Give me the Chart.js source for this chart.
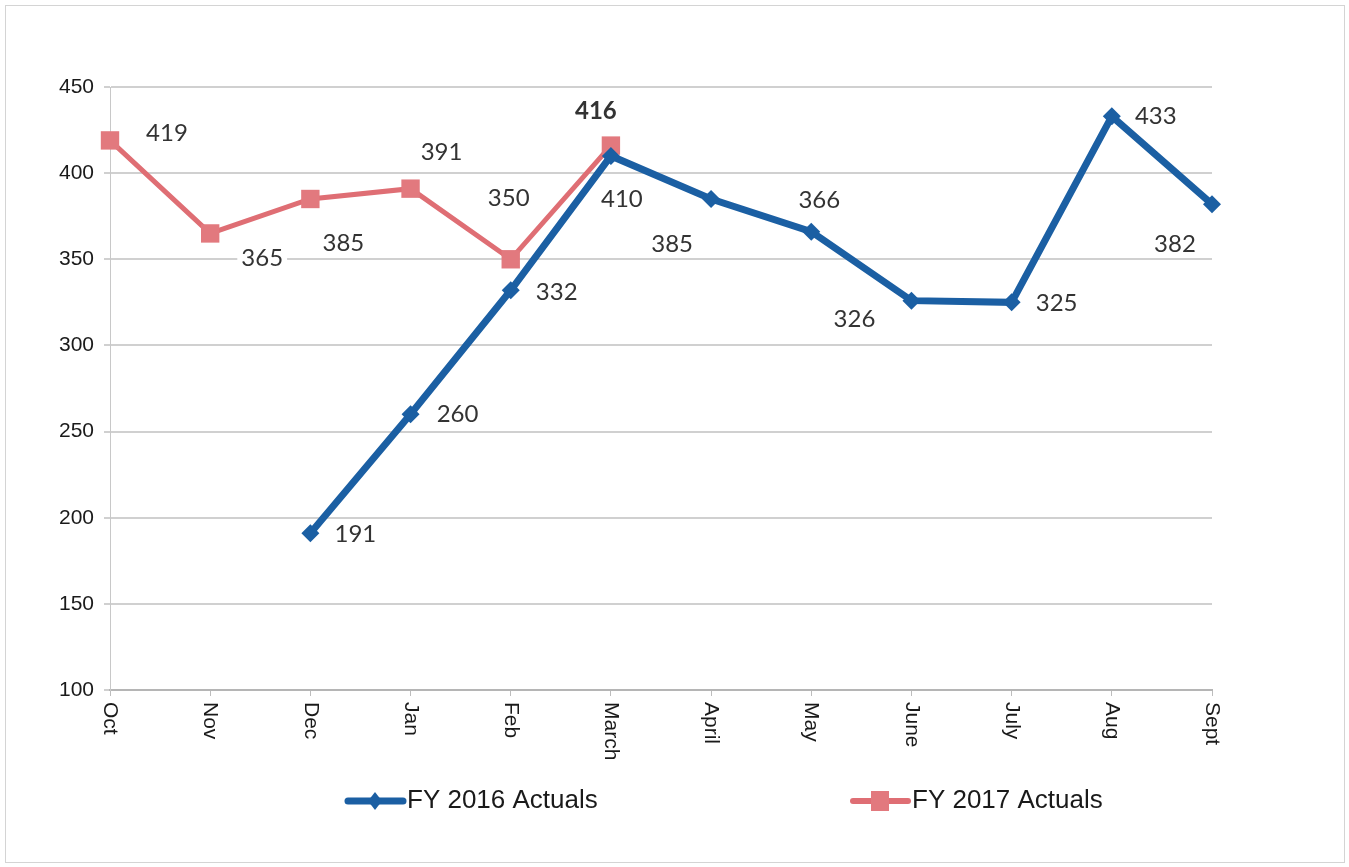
<!DOCTYPE html>
<html>
<head>
<meta charset="utf-8">
<script src="https://cdn.jsdelivr.net/npm/chart.js@4"></script>
<style>
  html, body { margin: 0; padding: 0; background: #fff; }
  #wrap { position: relative; width: 1349px; height: 867px; }
  #frame { position: absolute; left: 5px; top: 5px; width: 1340px; height: 858px; border: 1px solid #d4d4d4; box-sizing: border-box; pointer-events: none; }
</style>
</head>
<body>
<div id="wrap">
  <canvas id="chart" width="1349" height="867"></canvas>
  <div id="frame"></div>
</div>
<script>
// Data
const months = ['Oct', 'Nov', 'Dec', 'Jan', 'Feb', 'March', 'April', 'May', 'June', 'July', 'Aug', 'Sept'];
const fy2016 = [null, null, 191, 260, 332, 410, 385, 366, 326, 325, 433, 382];
const fy2017 = [419, 365, 385, 391, 350, 416, null, null, null, null, null, null];
const yTicks = [100, 150, 200, 250, 300, 350, 400, 450];

// label placement (offset from point, px)
const offsets2016 = [null, null, [45, 1], [47, 0], [46, 2], [11, 43], [-39, 45], [8, -31], [-57, 19], [45, 1], [44, 0], [-37, 40]];
const offsets2017 = [[57, -7], [52, 25], [33, 44], [31, -36], [-2, -61], [-15, -34]];

const BLUE = '#1b5fa3';
const RED = '#df6e74';

// Draw the value labels with white boxes
const valueLabels = {
    id: 'valueLabels',
    afterDatasetsDraw(chart) {
        const ctx = chart.ctx;
        const sets = [[0, offsets2016], [1, offsets2017]];
        ctx.save();
        ctx.textAlign = 'center';
        ctx.textBaseline = 'middle';
        sets.forEach(([di, offs]) => {
            const meta = chart.getDatasetMeta(di);
            const values = chart.data.datasets[di].data;
            meta.data.forEach((pt, i) => {
                if (values[i] == null || !offs[i]) return;
                const bold = di === 1 && i === 5;
                ctx.font = (bold ? 'bold ' : '') + '24px Lato, "Open Sans", sans-serif';
                const text = String(values[i]);
                const x = pt.x + offs[i][0];
                const y = pt.y + offs[i][1];
                const w = ctx.measureText(text).width;
                ctx.fillStyle = '#fff';
                ctx.fillRect(x - w / 2 - 4, y - 11, w + 8, 22);
                ctx.fillStyle = '#333';
                ctx.fillText(text, x, y);
            });
        });
        ctx.restore();
    }
};

// Rotated month labels (reading top to bottom) and bottom legend
const extras = {
    id: 'extras',
    afterDraw(chart) {
        const ctx = chart.ctx;
        const xs = chart.scales.x;
        ctx.save();
        ctx.font = '21px "Liberation Sans", Arial, sans-serif';
        ctx.fillStyle = '#1a1a1a';
        ctx.textAlign = 'left';
        ctx.textBaseline = 'middle';
        months.forEach((m, i) => {
            const x = xs.getPixelForTick(i);
            ctx.save();
            ctx.translate(x, chart.chartArea.bottom + 12);
            ctx.rotate(Math.PI / 2);
            ctx.fillText(m, 0, 0);
            ctx.restore();
        });

        // legend
        const items = [
            { text: 'FY 2016 Actuals', color: BLUE, lw: 7, style: 'diamond', x0: 345 },
            { text: 'FY 2017 Actuals', color: RED, lw: 6, style: 'square', x0: 850 }
        ];
        const ly = 801;
        items.forEach(it => {
            ctx.strokeStyle = it.color;
            ctx.lineWidth = it.lw;
            ctx.lineCap = 'round';
            ctx.beginPath();
            ctx.moveTo(it.x0 + 3, ly);
            ctx.lineTo(it.x0 + 58, ly);
            ctx.stroke();
            ctx.fillStyle = it.color;
            const cx = it.x0 + 30;
            if (it.style === 'diamond') {
                ctx.beginPath();
                ctx.moveTo(cx, ly - 9);
                ctx.lineTo(cx + 7, ly);
                ctx.lineTo(cx, ly + 9);
                ctx.lineTo(cx - 7, ly);
                ctx.closePath();
                ctx.fill();
            } else {
                ctx.fillStyle = '#e2797e';
                ctx.fillRect(cx - 9, ly - 10, 18, 20);
            }
            ctx.fillStyle = '#1a1a1a';
            ctx.font = '26px "Liberation Sans", Arial, sans-serif';
            ctx.textBaseline = 'middle';
            ctx.fillText(it.text, it.x0 + 62, ly);
        });
        ctx.restore();
    }
};

new Chart(document.getElementById('chart'), {
    type: 'line',
    data: {
        labels: months,
        datasets: [
            {
                label: 'FY 2016 Actuals',
                data: fy2016,
                borderColor: BLUE,
                backgroundColor: BLUE,
                borderWidth: 7,
                pointStyle: 'rectRot',
                pointRadius: 9,
                pointBorderWidth: 0,
                tension: 0,
                spanGaps: false
            },
            {
                label: 'FY 2017 Actuals',
                data: fy2017,
                borderColor: RED,
                backgroundColor: '#e2797e',
                borderWidth: 5,
                pointStyle: 'rect',
                pointRadius: 13,
                pointBorderWidth: 0,
                tension: 0
            }
        ]
    },
    options: {
        responsive: false,
        animation: false,
        events: [],
        layout: { padding: { top: 87, right: 137, bottom: 0, left: 0 } },
        plugins: {
            legend: { display: false },
            tooltip: { enabled: false }
        },
        scales: {
            x: {
                offset: false,
                grid: { display: true, drawOnChartArea: false, drawTicks: true, tickLength: 6, color: '#bdbdbd' },
                border: { color: '#b5b5b5', width: 2 },
                ticks: { display: false },
                afterFit(scale) { scale.height = 177; }
            },
            y: {
                min: 100,
                max: 450,
                afterBuildTicks(scale) { scale.ticks = yTicks.map(v => ({ value: v })); },
                grid: { color: '#d0d0d0', lineWidth: 2, tickLength: 6 },
                border: { color: '#c8c8c8', width: 1 },
                ticks: {
                    color: '#1a1a1a',
                    padding: 10,
                    font: { family: '"Liberation Sans", Arial, sans-serif', size: 21 }
                },
                afterFit(scale) { scale.width = 110; }
            }
        }
    },
    plugins: [valueLabels, extras]
});
</script>
</body>
</html>
